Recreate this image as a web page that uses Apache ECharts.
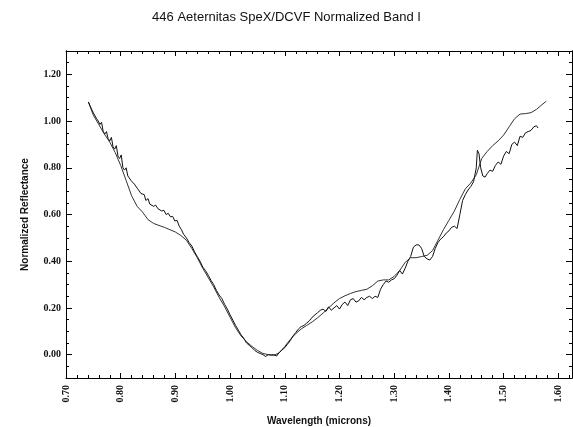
<!DOCTYPE html>
<html>
<head>
<meta charset="utf-8">
<script src="https://cdn.jsdelivr.net/npm/echarts@6/dist/echarts.min.js"></script>
<style>html,body{margin:0;padding:0;background:#fff}#c{width:573px;height:427px}</style>
</head>
<body>
<div id="c"></div>
<script>
// Smoother spectrum (lower resolution)
const wlSmooth = [0.741,0.75,0.76,0.77,0.78,0.79,0.80,0.81,0.82,0.83,0.84,0.85,0.86,0.87,0.88,0.89,0.90,0.91,0.92,0.93,0.94,0.95,0.96,0.97,0.98,0.99,1.00,1.01,1.02,1.03,1.04,1.05,1.06,1.07,1.08,1.09,1.10,1.11,1.12,1.13,1.14,1.15,1.16,1.17,1.18,1.19,1.20,1.21,1.22,1.23,1.24,1.25,1.26,1.27,1.28,1.29,1.30,1.31,1.32,1.33,1.34,1.35,1.36,1.37,1.38,1.39,1.40,1.41,1.42,1.43,1.44,1.45,1.46,1.47,1.48,1.49,1.50,1.51,1.52,1.53,1.54,1.55,1.56,1.57,1.578];
const reflSmooth = [1.081,1.025,0.985,0.945,0.91,0.865,0.81,0.745,0.68,0.635,0.61,0.578,0.562,0.553,0.545,0.535,0.525,0.51,0.49,0.455,0.415,0.37,0.33,0.29,0.245,0.205,0.16,0.115,0.08,0.055,0.035,0.018,0.005,0.0,-0.003,0.008,0.035,0.065,0.09,0.11,0.125,0.14,0.158,0.178,0.2,0.222,0.24,0.252,0.262,0.27,0.275,0.28,0.295,0.315,0.32,0.32,0.335,0.36,0.395,0.415,0.415,0.42,0.425,0.445,0.49,0.535,0.575,0.615,0.665,0.71,0.735,0.77,0.84,0.87,0.895,0.915,0.94,0.975,1.01,1.03,1.032,1.036,1.05,1.07,1.085];

// Noisy spectrum (higher resolution)
const wlNoisy = [0.741,0.744,0.747,0.750,0.753,0.756,0.759,0.762,0.765,0.768,0.771,0.774,0.777,0.780,0.783,0.786,0.789,0.792,0.795,0.798,0.801,0.804,0.807,0.810,0.813,0.816,0.819,0.822,0.825,0.828,0.831,0.834,0.837,0.840,0.843,0.846,0.850,0.853,0.856,0.860,0.864,0.868,0.871,0.875,0.879,0.883,0.887,0.891,0.895,0.899,0.903,0.907,0.911,0.915,0.920,0.925,0.930,0.935,0.940,0.945,0.950,0.955,0.960,0.965,0.970,0.975,0.980,0.985,0.990,0.995,1.000,1.005,1.010,1.015,1.020,1.025,1.030,1.035,1.040,1.045,1.050,1.055,1.060,1.065,1.070,1.075,1.080,1.085,1.090,1.095,1.100,1.105,1.110,1.115,1.120,1.125,1.130,1.135,1.140,1.145,1.150,1.155,1.160,1.165,1.170,1.175,1.180,1.185,1.190,1.195,1.200,1.205,1.210,1.215,1.220,1.225,1.230,1.235,1.240,1.245,1.250,1.255,1.260,1.265,1.270,1.275,1.280,1.285,1.290,1.295,1.300,1.305,1.310,1.315,1.320,1.325,1.330,1.335,1.340,1.345,1.350,1.355,1.360,1.365,1.370,1.375,1.380,1.385,1.390,1.395,1.400,1.405,1.410,1.415,1.420,1.425,1.430,1.435,1.440,1.445,1.450,1.452,1.455,1.458,1.462,1.466,1.470,1.475,1.480,1.485,1.490,1.495,1.500,1.505,1.510,1.515,1.520,1.525,1.530,1.535,1.540,1.545,1.550,1.555,1.560,1.563];
const reflNoisy = [1.082,1.065,1.05,1.035,1.04,1.01,1.0,0.985,0.995,0.955,0.945,0.955,0.925,0.915,0.93,0.89,0.88,0.895,0.85,0.84,0.855,0.80,0.79,0.80,0.765,0.77,0.745,0.752,0.73,0.735,0.71,0.715,0.69,0.695,0.685,0.66,0.668,0.645,0.65,0.635,0.64,0.625,0.628,0.615,0.618,0.60,0.605,0.59,0.592,0.572,0.575,0.55,0.535,0.515,0.50,0.48,0.465,0.44,0.42,0.40,0.375,0.36,0.34,0.318,0.30,0.275,0.255,0.24,0.215,0.195,0.17,0.148,0.125,0.105,0.085,0.07,0.05,0.04,0.03,0.018,0.01,0.005,0.0,-0.008,0.0,-0.002,0.0,-0.006,0.01,0.02,0.03,0.045,0.06,0.08,0.095,0.11,0.12,0.125,0.135,0.145,0.16,0.17,0.18,0.19,0.195,0.185,0.205,0.19,0.20,0.21,0.195,0.215,0.225,0.21,0.235,0.24,0.225,0.23,0.245,0.235,0.245,0.25,0.24,0.25,0.245,0.28,0.30,0.315,0.31,0.32,0.325,0.34,0.36,0.345,0.37,0.40,0.42,0.46,0.47,0.47,0.455,0.42,0.41,0.405,0.42,0.455,0.48,0.495,0.505,0.52,0.53,0.545,0.55,0.54,0.60,0.66,0.685,0.705,0.72,0.74,0.80,0.875,0.86,0.80,0.765,0.76,0.775,0.79,0.785,0.81,0.825,0.815,0.85,0.87,0.86,0.90,0.91,0.895,0.935,0.93,0.95,0.955,0.96,0.975,0.98,0.97];

const xTicks = [0.70,0.80,0.90,1.00,1.10,1.20,1.30,1.40,1.50,1.60];
const yTicks = [0.00,0.20,0.40,0.60,0.80,1.00,1.20];

const pair = (xs, ys) => xs.map((x, i) => [x, ys[i]]);
const black = '#000';
const labelFont = {fontFamily: 'Liberation Serif', fontSize: 10, fontWeight: 'bold', color: '#111'};
const nameFont = {fontFamily: 'Liberation Sans', fontSize: 10, fontWeight: 'bold', color: '#111'};

function xAx(pos, labels) {
  return {
    type: 'value', position: pos, min: 0.70, max: 1.625, interval: 0.1,
    axisLine: {show: true, onZero: false, lineStyle: {color: black, width: 1}},
    axisTick: {show: true, inside: true, length: 5, lineStyle: {color: black}},
    minorTick: {show: true, splitNumber: 5, length: 3, lineStyle: {color: black}},
    splitLine: {show: false},
    axisLabel: labels ? Object.assign({show: true, rotate: 90, margin: 7,
      customValues: xTicks, formatter: v => v.toFixed(2)}, labelFont) : {show: false},
    name: labels ? 'Wavelength (microns)' : '',
    nameLocation: 'middle', nameGap: 38, nameTextStyle: nameFont
  };
}
function yMinor(pos) {
  return {
    type: 'value', position: pos, min: -0.1, max: 1.3, interval: 0.05,
    axisLine: {show: true, onZero: false, lineStyle: {color: black, width: 1}},
    axisTick: {show: true, inside: true, length: 3, lineStyle: {color: black}},
    splitLine: {show: false}, axisLabel: {show: false}
  };
}
function yMajor(pos, labels) {
  return {
    type: 'value', position: pos, min: -0.1, max: 1.3,
    axisLine: {show: true, onZero: false, lineStyle: {color: black, width: 1}},
    axisTick: {show: true, inside: true, length: 6, customValues: yTicks, lineStyle: {color: black}},
    splitLine: {show: false},
    axisLabel: labels ? Object.assign({show: true, margin: 5, customValues: yTicks,
      formatter: v => v.toFixed(2)}, labelFont) : {show: false},
    name: labels ? 'Normalized Reflectance' : '',
    nameLocation: 'middle', nameGap: 36, nameRotate: 90, nameTextStyle: nameFont
  };
}

const chart = echarts.init(document.getElementById('c'), null, {renderer: 'canvas'});
chart.setOption({
  animation: false,
  backgroundColor: '#fff',
  title: {
    text: '446 Aeternitas SpeX/DCVF Normalized Band I',
    left: 'center', top: 6,
    textStyle: {fontFamily: 'Liberation Sans', fontSize: 13, fontWeight: 'normal', color: '#111'}
  },
  grid: {left: 66, right: 1, top: 51, bottom: 49, containLabel: false, outerBoundsMode: 'none'},
  xAxis: [xAx('bottom', true), xAx('top', false)],
  yAxis: [yMinor('left'), yMajor('left', true), yMinor('right'), yMajor('right', false)],
  series: [
    {type: 'line', name: 'DCVF', data: pair(wlSmooth, reflSmooth), xAxisIndex: 0, yAxisIndex: 0,
     showSymbol: false, lineStyle: {color: '#333', width: 1}, z: 3},
    {type: 'line', name: 'SpeX', data: pair(wlNoisy, reflNoisy), xAxisIndex: 0, yAxisIndex: 0,
     showSymbol: false, lineStyle: {color: '#111', width: 1}, z: 4}
  ]
});
</script>
</body>
</html>
